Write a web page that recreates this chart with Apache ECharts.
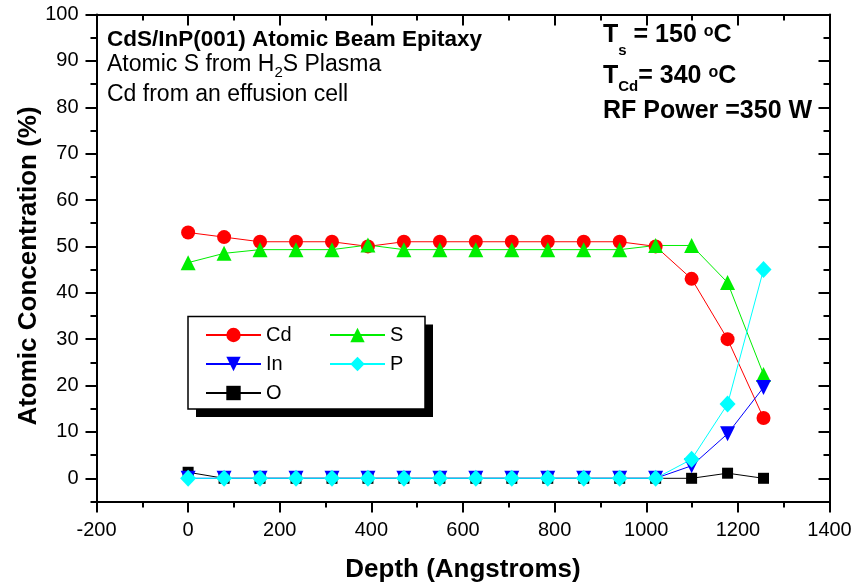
<!DOCTYPE html>
<html><head><meta charset="utf-8">
<script src="https://cdn.jsdelivr.net/npm/echarts@6/dist/echarts.min.js"></script>
<style>html,body{margin:0;padding:0;background:#fff}#c{width:856px;height:588px}</style>
</head><body><div id="c"></div>
<script>
// ---- data ----
const depth = [0, 78.5, 157, 235.5, 314, 392.5, 471, 549.5, 628, 706.5, 785, 863.5, 942, 1020.5, 1099, 1177.5, 1256];
const cd  = [53, 52, 51, 51, 51, 50, 51, 51, 51, 51, 51, 51, 51, 50, 43, 30, 13];
const sS  = [46.5, 48.5, 49.3, 49.3, 49.3, 50.3, 49.3, 49.3, 49.3, 49.3, 49.3, 49.3, 49.3, 50.2, 50.2, 42.2, 22.4];
const inn = [0, 0, 0, 0, 0, 0, 0, 0, 0, 0, 0, 0, 0, 0, 2.7, 9.6, 19.6];
const pP  = [0, 0, 0, 0, 0, 0, 0, 0, 0, 0, 0, 0, 0, 0, 4.1, 16, 45];
const oO  = [1.3, 0, 0, 0, 0, 0, 0, 0, 0, 0, 0, 0, 0, 0, 0, 1.1, 0];
const seriesNames = ['Cd', 'S', 'In', 'P', 'O'];
const xRange = [-200, 1400];
const xStep = 200;
const yRange = [0, 100];
const yStep = 10;

const FONT = '"Liberation Sans", Arial, Helvetica, sans-serif';
const chart = echarts.init(document.getElementById('c'), null, {renderer: 'canvas'});

const L = 96.5, R = 856 - 829.5, T = 14.5;
const pxPerUnit = (478.3 - T) / (yRange[1] - yRange[0]);
const yLow = -5;
const H1 = (yRange[1] - yLow) * pxPerUnit;
const H2 = (yRange[1] - yRange[0]) * pxPerUnit;

const blk = '#000';
const line2 = {show: true, onZero: false, lineStyle: {color: blk, width: 2}};
const tickStyle = {color: blk, width: 2};
const plain = v => String(v);

const mctx = document.createElement('canvas').getContext('2d');
function pieces(x, base, parts) {
  const els = [];
  let cx = x;
  parts.forEach(p => {
    const font = (p.b ? 'bold ' : '') + p.s + 'px ' + FONT;
    mctx.font = font;
    const w = mctx.measureText(p.t).width;
    els.push({type: 'text', z: 10, silent: true,
      style: {text: p.t, x: cx, y: base + (p.dy || 0) - 0.35 * p.s, font: font, fill: blk, align: 'left', verticalAlign: 'middle'}});
    cx += w;
  });
  return els;
}

function mk(name, vals, color, symbol, size, rot) {
  return {
    name: name, type: 'line', xAxisIndex: 0, yAxisIndex: 0,
    data: depth.map((d, i) => [d, vals[i]]),
    symbol: symbol, symbolSize: size, symbolRotate: rot || 0,
    showSymbol: true, showAllSymbol: true,
    lineStyle: {color: color, width: 1},
    itemStyle: {color: color, borderWidth: 0},
    emphasis: {disabled: true}, animation: false, z: 2
  };
}

const legendCommon = {
  orient: 'vertical', itemWidth: 55, itemHeight: 18, itemGap: 9, padding: 0,
  selectedMode: false, z: 6,
  textStyle: {fontSize: 20, color: blk, fontFamily: FONT}
};

const graphics = [
  {type: 'rect', z: 5, z2: 0, silent: true, shape: {x: 196, y: 324.5, width: 237, height: 92.5}, style: {fill: blk}},
  {type: 'rect', z: 5, z2: 1, silent: true, shape: {x: 188, y: 316.5, width: 237, height: 92.5}, style: {fill: '#fff', stroke: blk, lineWidth: 1.5}}
].concat(
  pieces(107, 48, [{t: 'CdS/InP(001) Atomic Beam Epitaxy', s: 22.5, b: 1}]),
  pieces(107, 73, [{t: 'Atomic S from H', s: 23}, {t: '2', s: 15, dy: 5}, {t: 'S Plasma', s: 23}]),
  pieces(107, 103, [{t: 'Cd from an effusion cell', s: 23}]),
  pieces(603, 44, [{t: 'T', s: 25, b: 1}, {t: 's', s: 15, b: 1, dy: 12}, {t: ' = 150 ', s: 25, b: 1}, {t: 'o', s: 16, b: 1, dy: -7}, {t: 'C', s: 25, b: 1}]),
  pieces(603, 85, [{t: 'T', s: 25, b: 1}, {t: 'Cd', s: 15, b: 1, dy: 7}, {t: '= 340 ', s: 25, b: 1}, {t: 'o', s: 16, b: 1, dy: -7}, {t: 'C', s: 25, b: 1}]),
  pieces(603, 120, [{t: 'RF Power =350 W', s: 25, b: 1}])
);

const option = {
  backgroundColor: '#fff',
  animation: false,
  grid: [
    {left: L, right: R, top: T, height: H1, outerBoundsMode: 'none', containLabel: false},
    {left: L, right: R, top: T, height: H2, outerBoundsMode: 'none', containLabel: false}
  ],
  xAxis: [
    {gridIndex: 0, type: 'value', position: 'bottom', min: xRange[0], max: xRange[1], interval: xStep,
      axisLine: line2, splitLine: {show: false}, minorSplitLine: {show: false},
      axisTick: {show: true, inside: false, length: 11, lineStyle: tickStyle},
      minorTick: {show: true, splitNumber: 2, length: 6, lineStyle: tickStyle},
      axisLabel: {show: true, fontSize: 20, color: blk, fontFamily: FONT, margin: 19, showMinLabel: true, showMaxLabel: true, formatter: plain},
      name: 'Depth (Angstroms)', nameLocation: 'middle', nameGap: 55,
      nameTextStyle: {fontSize: 26, fontWeight: 'bold', color: blk, fontFamily: FONT}},
    {gridIndex: 0, type: 'value', position: 'top', min: xRange[0], max: xRange[1], interval: xStep,
      axisLine: line2, splitLine: {show: false},
      axisTick: {show: true, inside: true, length: 11, lineStyle: tickStyle},
      minorTick: {show: true, splitNumber: 2, length: 6, lineStyle: tickStyle},
      axisLabel: {show: false}},
    {gridIndex: 1, type: 'value', min: xRange[0], max: xRange[1], interval: xStep, show: false}
  ],
  yAxis: [
    {gridIndex: 0, type: 'value', position: 'left', min: yLow, max: yRange[1], interval: 5,
      axisLine: line2, splitLine: {show: false},
      axisTick: {show: true, inside: false, length: 6, lineStyle: tickStyle},
      axisLabel: {show: false},
      name: 'Atomic Concentration (%)', nameLocation: 'middle', nameGap: 55, nameRotate: 90,
      nameTextStyle: {fontSize: 26, fontWeight: 'bold', color: blk, fontFamily: FONT, padding: [0, 16, 0, 0]}},
    {gridIndex: 0, type: 'value', position: 'right', min: yLow, max: yRange[1], interval: 5,
      axisLine: line2, splitLine: {show: false},
      axisTick: {show: true, inside: true, length: 6, lineStyle: tickStyle},
      axisLabel: {show: false}},
    {gridIndex: 1, type: 'value', position: 'left', min: yRange[0], max: yRange[1], interval: yStep,
      axisLine: {show: false, onZero: false}, splitLine: {show: false},
      axisTick: {show: true, inside: false, length: 11, lineStyle: tickStyle},
      axisLabel: {show: true, fontSize: 20, color: blk, fontFamily: FONT, margin: 18, showMinLabel: true, showMaxLabel: true, formatter: plain}},
    {gridIndex: 1, type: 'value', position: 'right', min: yRange[0], max: yRange[1], interval: yStep,
      axisLine: {show: false, onZero: false}, splitLine: {show: false},
      axisTick: {show: true, inside: true, length: 11, lineStyle: tickStyle},
      axisLabel: {show: false}}
  ],
  legend: [
    Object.assign({data: [seriesNames[0], seriesNames[2], seriesNames[4]], left: 205, top: 325}, legendCommon),
    Object.assign({data: [seriesNames[1], seriesNames[3]], left: 329, top: 325}, legendCommon)
  ],
  graphic: {elements: graphics},
  series: [
    mk(seriesNames[0], cd, '#ff0000', 'circle', 14),
    mk(seriesNames[1], sS, '#00ee00', 'triangle', 15),
    mk(seriesNames[4], oO, '#000000', 'rect', 11),
    mk(seriesNames[2], inn, '#0000ff', 'triangle', 15, 180),
    mk(seriesNames[3], pP, '#00ffff', 'diamond', [16, 17])
  ]
};
chart.setOption(option);
</script></body></html>
